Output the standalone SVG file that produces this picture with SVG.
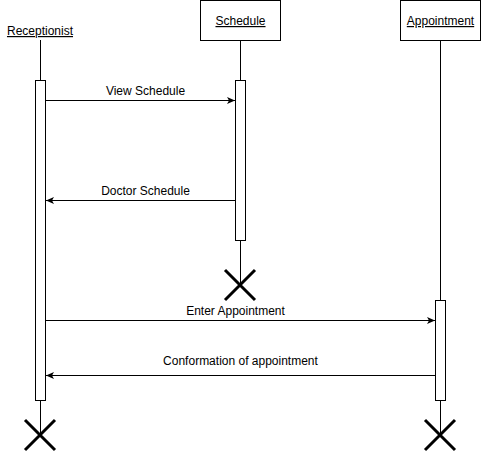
<svg xmlns="http://www.w3.org/2000/svg" width="481" height="452" viewBox="0 0 481 452">
<style>
text{font-family:"Liberation Sans",Arial,sans-serif;font-size:12px;fill:#000;text-anchor:middle}
.u{text-decoration:underline}
.box{fill:#fff;stroke:#000;stroke-width:1}
.life{stroke:#000;stroke-width:1;fill:none}
.x{stroke:#000;stroke-width:3;fill:none}
.msg{stroke:#000;stroke-width:1;fill:none;marker-end:url(#arr)}
</style>
<defs>
<marker id="arr" markerWidth="10" markerHeight="10" refX="8" refY="4" orient="auto" markerUnits="userSpaceOnUse">
<path d="M0,0.5 L8,4 L0,7.5 L2,4 Z" fill="#000"/>
</marker>
</defs>
<rect width="481" height="452" fill="#fff"/>
<g id="receptionist">
<text class="u" x="40" y="35">Receptionist</text>
<line class="life" x1="40.5" y1="40" x2="40.5" y2="435"/>
<rect class="box" x="35.5" y="80.5" width="10" height="320"/>
<path class="x" d="M25,420 L55,450 M55,420 L25,450"/>
</g>
<g id="schedule">
<rect class="box" x="200.5" y="0.5" width="80" height="40"/>
<text class="u" x="240.5" y="25">Schedule</text>
<line class="life" x1="240.5" y1="40" x2="240.5" y2="285"/>
<rect class="box" x="235.5" y="80.5" width="10" height="160"/>
<path class="x" d="M225,270 L255,300 M255,270 L225,300"/>
</g>
<g id="appointment">
<rect class="box" x="400.5" y="0.5" width="80" height="40"/>
<text class="u" x="440.5" y="25">Appointment</text>
<line class="life" x1="440.5" y1="40" x2="440.5" y2="435"/>
<rect class="box" x="435.5" y="300.5" width="10" height="100"/>
<path class="x" d="M425,420 L455,450 M455,420 L425,450"/>
</g>
<g id="connectors">
<line class="msg" x1="46" y1="100.5" x2="235" y2="100.5"/>
<text x="145.5" y="95">View Schedule</text>
<line class="msg" x1="235" y1="200.5" x2="46" y2="200.5"/>
<text x="145.5" y="195">Doctor Schedule</text>
<line class="msg" x1="46" y1="320.5" x2="435" y2="320.5"/>
<text x="235.5" y="315">Enter Appointment</text>
<line class="msg" x1="435" y1="375.5" x2="46" y2="375.5"/>
<text x="240.5" y="365">Conformation of appointment</text>
</g>
</svg>
